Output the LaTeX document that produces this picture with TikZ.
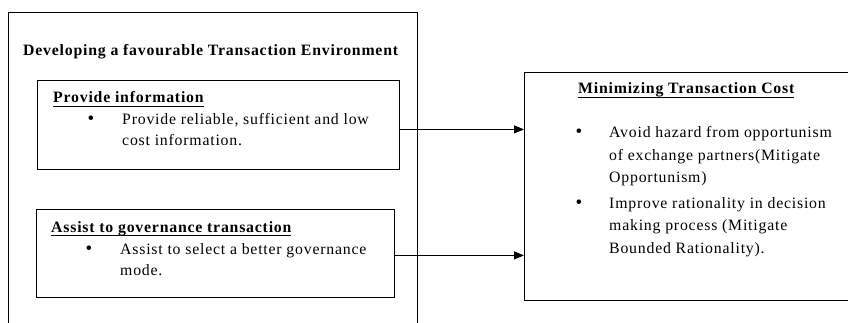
\documentclass[tikz,border=0pt]{standalone}
\usepackage{fontspec}
\setmainfont[LetterSpace=5]{Liberation Serif}
\usetikzlibrary{arrows.meta,
                positioning}
\newcommand\undl[1]{\setbox0\hbox{#1}\rlap{\rule[-3.5pt]{\wd0}{0.8pt}}\box0}
\newcommand\lns[1]{\begin{tabular}[t]{@{}l@{}}#1\end{tabular}}

\begin{document}
\begin{tikzpicture}[x=1pt, y=-1pt,
   BOX/.style = {draw, line width=0.8pt, anchor=north west, inner sep=0pt},
   TXT/.style = {anchor=base west, inner sep=0pt,
                 font=\fontsize{15.8}{21}\selectfont},
    HD/.style = {TXT, font=\fontsize{15.8}{21}\selectfont\bfseries},
   DOT/.style = {anchor=base, inner sep=0pt, font=\fontsize{19}{21}\selectfont},
   ARR/.style = {line width=0.8pt, -{Triangle[length=10pt,width=8pt]}}
                    ]
\useasboundingbox (0,0) rectangle (848,323);
% environment frame
\node (env)  [BOX, minimum width=409, minimum height=340] at (8,12) {};
\node (envT) [HD] at (23,56) {Developing a favourable Transaction Environment};
% provide information
\node (info)  [BOX, minimum width=362, minimum height=89] at (37,80) {};
\node (infoT) [HD]  at (53,103) {\undl{Provide information}};
\node (infoD) [DOT] at (91,125) {\textbullet};
\node (infoL) [TXT] at (122,125) {\lns{Provide reliable, sufficient and low\\cost information.}};
% governance
\node (gov)  [BOX, minimum width=358, minimum height=88] at (36,209) {};
\node (govT) [HD]  at (51,232) {\undl{Assist to governance transaction}};
\node (govD) [DOT] at (89,254) {\textbullet};
\node (govL) [TXT] at (120,254) {\lns{Assist to select a better governance\\mode.}};
% transaction cost
\node (cost)   [BOX, minimum width=323.5, minimum height=228] at (524,72) {};
\node (costT)  [HD]  at (578,94) {\undl{Minimizing Transaction Cost}};
\node (costD1) [DOT] at (579,138) {\textbullet};
\node (costL1) [TXT, font=\fontsize{15.8}{22.5}\selectfont] at (609,138)
      {\lns{Avoid hazard from opportunism\\of exchange partners(Mitigate\\Opportunism)}};
\node (costD2) [DOT] at (579,208) {\textbullet};
\node (costL2) [TXT, font=\fontsize{15.8}{22.5}\selectfont] at (609,208)
      {\lns{Improve rationality in decision\\making process (Mitigate\\Bounded Rationality).}};
% arrows
\draw[ARR] ([yshift=-4.5pt]info.east) -- ([yshift=-4.5pt]cost.west |- info.east);
\draw[ARR] ([yshift=-2pt]gov.east) -- ([yshift=-2pt]cost.west |- gov.east);
\end{tikzpicture}
\end{document}
